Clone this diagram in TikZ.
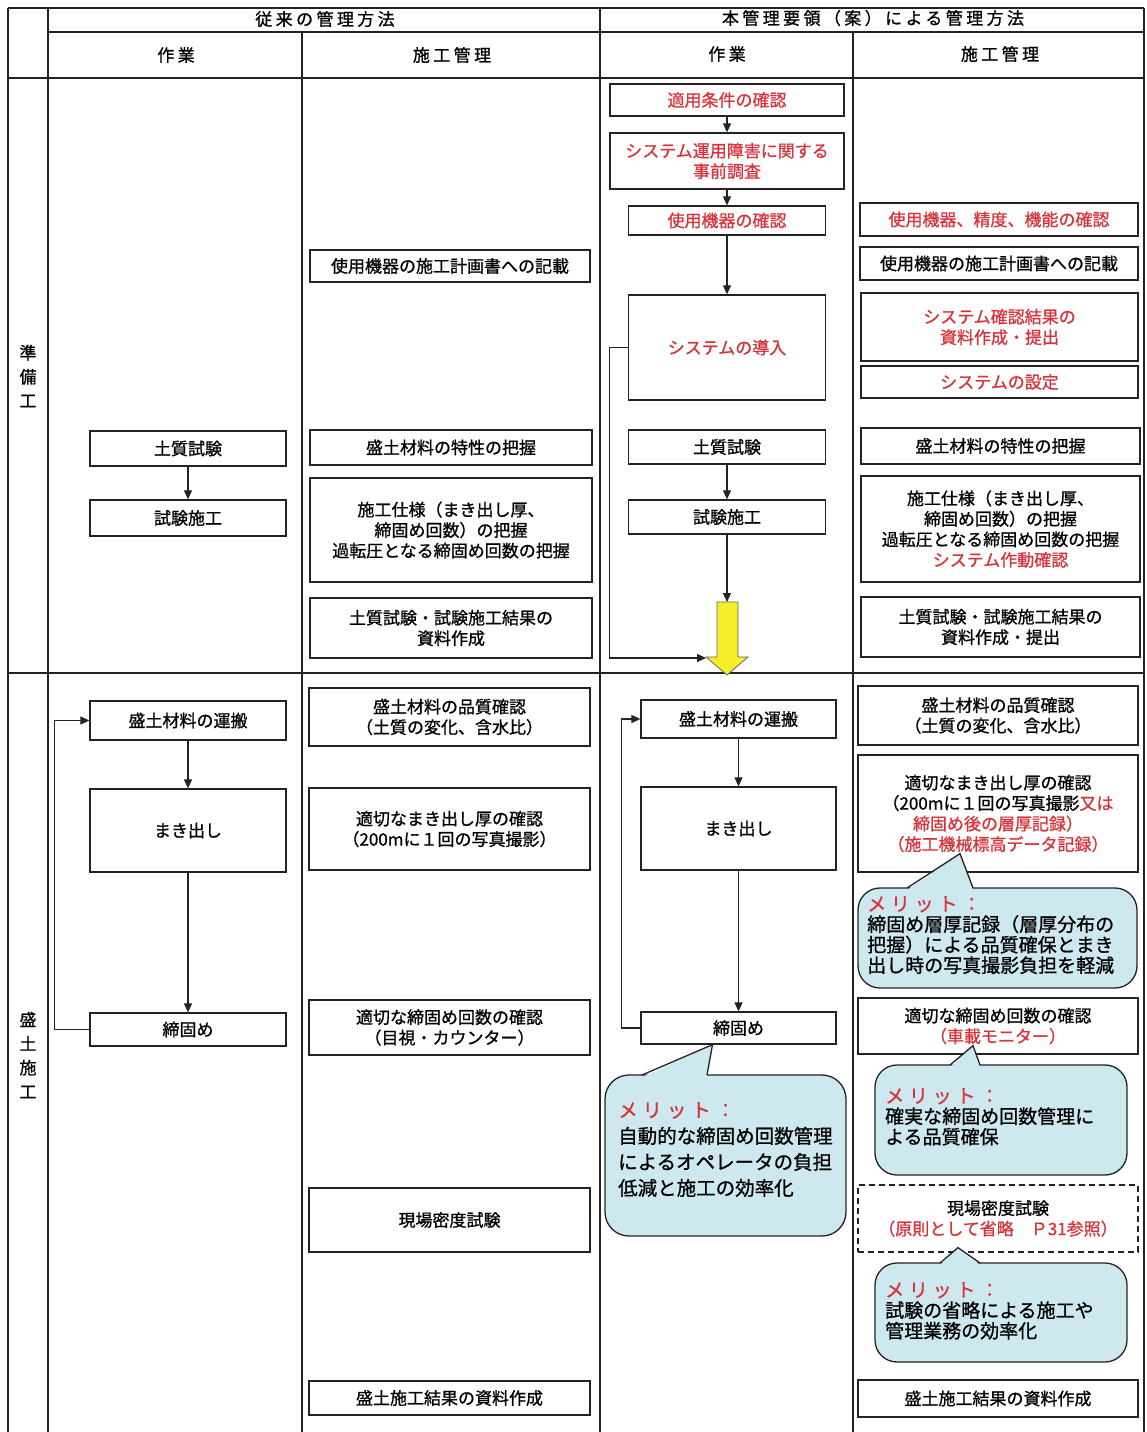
\documentclass[tikz,border=0pt]{standalone}
\usepackage{fontspec}
\usepackage{tikz}
\setmainfont{Noto Sans CJK JP}[FakeBold=0.9]
\newfontfamily\headfamily{Noto Sans CJK JP}[LetterSpace=20, FakeBold=0.9]
\newfontfamily\spacedfamily{Noto Sans CJK JP}[LetterSpace=25, FakeBold=0.9]
\usetikzlibrary{arrows.meta, positioning, calc}
\definecolor{notecolor}{RGB}{214,52,58}
\definecolor{meritcolor}{RGB}{206,232,240}
\definecolor{flowcolor}{RGB}{246,238,40}
\definecolor{linecolor}{RGB}{35,35,35}
\newcommand{\partfont}{\fontsize{17}{20.5}\selectfont}
\newcommand{\meritfont}{\fontsize{19.5}{26}\selectfont}
\newcommand{\meritsmall}{\fontsize{19}{20.5}\selectfont}
\newcommand{\headfont}{\headfamily\fontsize{17}{20}\selectfont}
\newcommand{\sidefont}{\fontsize{17}{24}\selectfont}
\newcommand{\merithead}{\textcolor{notecolor}{\spacedfamily メリット：}}

\begin{document}
\begin{tikzpicture}[
    x=1pt, y=-1pt,
    part/.style={draw=linecolor, line width=1.3pt, fill=white, align=center, inner sep=0pt, font=\partfont},
    dashpart/.style={part, dash pattern=on 6pt off 4pt},
    note/.style={text=notecolor},
    arrow/.style={-{Triangle[length=9pt, width=8pt]}, line width=1.1pt, draw=linecolor},
    grid/.style={line width=1.2pt, draw=linecolor},
    head/.style={font=\headfont},
    side/.style={align=center, font=\sidefont},
    merit/.style={line width=1.3pt, draw=linecolor, fill=meritcolor},
    merittext/.style={anchor=north west, align=left, inner sep=0pt, font=\meritfont},
    meritsmalltext/.style={merittext, font=\meritsmall},
    flowarrow/.style={fill=flowcolor, draw=black!60, line width=0.8pt}
]
    \useasboundingbox (0,0) rectangle (1146,1432);

    % table lines
    \draw[grid] (8,8) -- (1144,8);
    \draw[grid] (48,32) -- (1144,32);
    \draw[grid] (8,78) -- (1144,78);
    \draw[grid] (8,673) -- (1144,673);
    \foreach \x in {8,48,600,1144}
        \draw[grid] (\x,8) -- (\x,1432);
    \foreach \x in {302,853}
        \draw[grid] (\x,32) -- (\x,1432);

    % headings
    \node[head] (hold) at (325,19) {従来の管理方法};
    \node[head] (hnew) at (873,18) {本管理要領（案）による管理方法};
    \node[head] (holdwork) at (176,55) {作業};
    \node[head] (holdctrl) at (452,55) {施工管理};
    \node[head] (hnewwork) at (727,54) {作業};
    \node[head] (hnewctrl) at (1000,54) {施工管理};
    \node[side] (hprep) at (28,376) {準\\備\\工};
    \node[side] (hfill) at (28,1055) {盛\\土\\施\\工};

    % old method: work
    \node[part, minimum width=196, minimum height=35] (osoil) at (188,448.5) {土質試験};
    \node[part, minimum width=196, minimum height=36] (otrial) at (188,518) {試験施工};
    \node[part, minimum width=196, minimum height=39] (ohaul) at (188,720.5) {盛土材料の運搬};
    \node[part, minimum width=196, minimum height=83] (ospread) at (188,830.5) {まき出し};
    \node[part, minimum width=196, minimum height=33] (ocompact) at (188,1029.5) {締固め};

    \draw[arrow] (osoil) -- (otrial);
    \draw[arrow] (ohaul) -- (ospread);
    \draw[arrow] (ospread) -- (ocompact);
    \draw[arrow] (ocompact.west) -- ++(-35,0) |- (ohaul.west);

    % old method: control
    \node[part, minimum width=280, minimum height=32] (oplan) at (450,266) {使用機器の施工計画書への記載};
    \node[part, minimum width=282, minimum height=35] (oprop) at (451,447.5) {盛土材料の特性の把握};
    \node[part, minimum width=282, minimum height=104] (ospec) at (451,530) {施工仕様（まき出し厚、\\締固め回数）の把握\\過転圧となる締固め回数の把握};
    \node[part, minimum width=282, minimum height=60] (oreport) at (451,628) {土質試験・試験施工結果の\\資料作成};
    \node[part, minimum width=281, minimum height=58] (oquality) at (449.5,717) {盛土材料の品質確認\\（土質の変化、含水比）};
    \node[part, minimum width=281, minimum height=82] (othick) at (449.5,829) {適切なまき出し厚の確認\\（200mに１回の写真撮影）};
    \node[part, minimum width=281, minimum height=55] (ocount) at (449.5,1027.5) {適切な締固め回数の確認\\（目視・カウンター）};
    \node[part, minimum width=281, minimum height=64] (odensity) at (449.5,1220) {現場密度試験};
    \node[part, minimum width=281, minimum height=34] (oresult) at (449.5,1398) {盛土施工結果の資料作成};

    % new method: work
    \node[part, note, minimum width=234, minimum height=32] (ncond) at (727,100) {適用条件の確認};
    \node[part, note, minimum width=234, minimum height=56] (nsurvey) at (727,161) {システム運用障害に関する\\事前調査};
    \node[part, note, minimum width=197, minimum height=29] (nequip) at (727,220.5) {使用機器の確認};
    \node[part, note, minimum width=197, minimum height=105] (nintro) at (727,347.5) {システムの導入};
    \node[part, minimum width=197, minimum height=34] (nsoil) at (727,447) {土質試験};
    \node[part, minimum width=197, minimum height=34] (ntrial) at (727,517) {試験施工};
    \node[part, minimum width=195, minimum height=38] (nhaul) at (738.5,719) {盛土材料の運搬};
    \node[part, minimum width=195, minimum height=83] (nspread) at (738.5,828.5) {まき出し};
    \node[part, minimum width=195, minimum height=32] (ncompact) at (738.5,1028) {締固め};

    % yellow arrow into the filling work
    \draw[flowarrow] (717,602) -- (738,602) -- (738,657) -- (748,657) -- (727,675) -- (706,657) -- (717,657) -- cycle;
    \coordinate (ytop) at (727,602);
    \coordinate (yhead) at (706,658);

    \draw[arrow] (ncond) -- (nsurvey);
    \draw[arrow] (nsurvey) -- (nequip);
    \draw[arrow] (nequip) -- (nintro);
    \draw[arrow] (nsoil) -- (ntrial);
    \draw[arrow] (ntrial) -- (ytop);
    \draw[arrow] (nintro.west) -- ++(-18,0) |- (yhead);
    \draw[arrow] (nhaul) -- (nspread);
    \draw[arrow] (nspread) -- (ncompact);
    \draw[arrow] (ncompact.west) -- ++(-19,0) |- (nhaul.west);

    % new method: control
    \node[part, note, minimum width=278, minimum height=33] (ncheck) at (999,219.5) {使用機器、精度、機能の確認};
    \node[part, minimum width=278, minimum height=33] (nplan) at (999,263.5) {使用機器の施工計画書への記載};
    \node[part, note, minimum width=277, minimum height=68] (nsysrep) at (999.5,327) {システム確認結果の\\資料作成・提出};
    \node[part, note, minimum width=277, minimum height=32] (nsetting) at (999.5,382) {システムの設定};
    \node[part, minimum width=279, minimum height=36] (nprop) at (1000.5,446) {盛土材料の特性の把握};
    \node[part, minimum width=279, minimum height=106] (nspec) at (1000.5,529) {施工仕様（まき出し厚、\\締固め回数）の把握\\過転圧となる締固め回数の把握\\\textcolor{notecolor}{システム作動確認}};
    \node[part, minimum width=279, minimum height=60] (nreport) at (1000.5,627) {土質試験・試験施工結果の\\資料作成・提出};
    \node[part, minimum width=280, minimum height=59] (nquality) at (998,715.5) {盛土材料の品質確認\\（土質の変化、含水比）};
    \node[part, minimum width=280, minimum height=117] (nthick) at (998,813.5) {適切なまき出し厚の確認\\（200mに１回の写真撮影\textcolor{notecolor}{又は}\\\textcolor{notecolor}{締固め後の層厚記録）}\\\textcolor{notecolor}{（施工機械標高データ記録）}};
    \node[part, minimum width=280, minimum height=56] (ncount) at (998,1026) {適切な締固め回数の確認\\\textcolor{notecolor}{（車載モニター）}};
    \node[dashpart, minimum width=280, minimum height=67] (ndensity) at (998,1218.5) {現場密度試験\\\textcolor{notecolor}{（原則として省略　Ｐ31参照）}};
    \node[part, minimum width=280, minimum height=37] (nresult) at (998,1398.5) {盛土施工結果の資料作成};

    % merit callouts
    \draw[merit, rounded corners=24pt] (605,1075) rectangle (846,1236);
    \fill[meritcolor] (642,1077) -- ($(ncompact.south)+(-26,0)$) -- (707,1077) -- cycle;
    \draw[merit, fill=none] (642,1075) -- ($(ncompact.south)+(-26,0)$) -- (707,1075);
    \node[merittext] (mmerit) at (618,1102) {\merithead\\自動的な締固め回数管理\\によるオペレータの負担\\低減と施工の効率化};

    \draw[merit, rounded corners=22pt] (858,888) rectangle (1137,988);
    \fill[meritcolor] (907,890) -- ($(nthick.south)+(-38,-19)$) -- (973,890) -- cycle;
    \draw[merit, fill=none] (907,888) -- ($(nthick.south)+(-38,-19)$) -- (973,888);
    \node[meritsmalltext] (rmerit1) at (867,896) {\merithead\\締固め層厚記録（層厚分布の\\把握）による品質確保とまき\\出し時の写真撮影負担を軽減};

    \draw[merit, rounded corners=22pt] (875,1065) rectangle (1127,1175);
    \fill[meritcolor] (950,1067) -- ($(ncount.south)+(-25,-9)$) -- (980,1067) -- cycle;
    \draw[merit, fill=none] (950,1065) -- ($(ncount.south)+(-25,-9)$) -- (980,1065);
    \node[meritsmalltext] (rmerit2) at (885,1088) {\merithead\\確実な締固め回数管理に\\よる品質確保};

    \draw[merit, rounded corners=22pt] (875,1263) rectangle (1127,1362);
    \fill[meritcolor] (940,1265) -- ($(ndensity.south)+(-40,-5)$) -- (980,1265) -- cycle;
    \draw[merit, fill=none] (940,1263) -- ($(ndensity.south)+(-40,-5)$) -- (980,1263);
    \node[meritsmalltext] (rmerit3) at (885,1282) {\merithead\\試験の省略による施工や\\管理業務の効率化};
\end{tikzpicture}
\end{document}
